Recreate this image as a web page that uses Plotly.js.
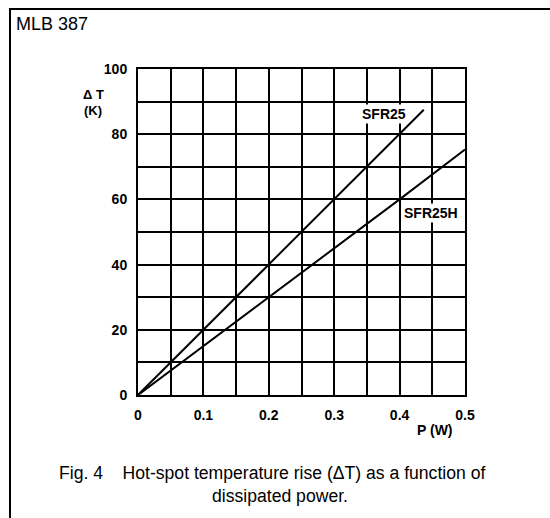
<!DOCTYPE html>
<html>
<head>
<meta charset="utf-8">
<script src="https://cdn.plot.ly/plotly-3.0.1.min.js"></script>
<style>body{margin:0;padding:0;background:#fff;}#chart{width:550px;height:518px;}</style>
</head>
<body>
<div id="chart"></div>
<script>
// Data
const powerSFR25 = [0, 0.05, 0.1, 0.2, 0.3, 0.4, 0.437];
const riseSFR25 = [0, 10, 20, 40, 60, 80, 87.5];
const powerSFR25H = [0, 0.1, 0.2, 0.3, 0.4, 0.5];
const riseSFR25H = [0, 15, 30, 45, 60, 75.3];
const xTickVals = [0, 0.05, 0.1, 0.15, 0.2, 0.25, 0.3, 0.35, 0.4, 0.45, 0.5];
const xTickText = ['0', '', '0.1', '', '0.2', '', '0.3', '', '0.4', '', '0.5'];
const yTickVals = [0, 10, 20, 30, 40, 50, 60, 70, 80, 90, 100];
const yTickText = ['0', '', '20', '', '40', '', '60', '', '80', '', '100'];
const seriesNames = ['SFR25', 'SFR25H'];

// plot area geometry in pixels
const L = 138, R = 465, T = 69, B = 395, W = 550, H = 518;
const px = x => (x - L) / (R - L);
const py = y => (B - y) / (B - T);

const font = 'Liberation Sans, Arial, Helvetica, sans-serif';
const bold = {family: font, size: 14, color: '#000', weight: 'bold'};
const boldSmall = {family: font, size: 13, color: '#000', weight: 'bold'};

const traces = [
  {x: powerSFR25, y: riseSFR25, name: seriesNames[0], mode: 'lines', line: {color: '#000', width: 2}},
  {x: powerSFR25H, y: riseSFR25H, name: seriesNames[1], mode: 'lines', line: {color: '#000', width: 2}}
];

const axisCommon = {
  showgrid: true, gridcolor: '#000', gridwidth: 2,
  showline: true, linecolor: '#000', linewidth: 2, mirror: true,
  zeroline: false, ticks: '', ticklabelstandoff: 6,
  tickfont: {family: font, size: 14, color: '#000', weight: 'bold'}
};

const layout = {
  width: W, height: H,
  margin: {l: L, r: W - R, t: T, b: H - B, pad: 0},
  paper_bgcolor: '#fff', plot_bgcolor: '#fff',
  showlegend: false,
  font: {family: font, color: '#000'},
  xaxis: Object.assign({range: [0, 0.5], tickvals: xTickVals, ticktext: xTickText}, axisCommon),
  yaxis: Object.assign({range: [0, 100], tickvals: yTickVals, ticktext: yTickText}, axisCommon),
  shapes: [
    {type: 'line', xref: 'paper', yref: 'paper', x0: px(9), x1: px(550), y0: py(9), y1: py(9), line: {color: '#000', width: 2}},
    {type: 'line', xref: 'paper', yref: 'paper', x0: px(10), x1: px(10), y0: py(9), y1: py(518), line: {color: '#000', width: 2}}
  ],
  annotations: [
    {xref: 'paper', yref: 'paper', x: px(14), y: py(24), xanchor: 'left', yanchor: 'middle', showarrow: false,
     text: 'MLB 387', font: {family: font, size: 18, color: '#000'}},
    {xref: 'paper', yref: 'paper', x: px(93), y: py(94.5), xanchor: 'center', yanchor: 'middle', showarrow: false,
     text: 'Δ T', font: boldSmall},
    {xref: 'paper', yref: 'paper', x: px(93), y: py(110), xanchor: 'center', yanchor: 'middle', showarrow: false,
     text: '(K)', font: boldSmall},
    {xref: 'paper', yref: 'paper', x: px(435), y: py(430), xanchor: 'center', yanchor: 'middle', showarrow: false,
     text: 'P (W)', font: bold},
    {xref: 'paper', yref: 'paper', x: px(384), y: py(114), xanchor: 'center', yanchor: 'middle', showarrow: false,
     text: seriesNames[0], font: bold, bgcolor: '#fff'},
    {xref: 'paper', yref: 'paper', x: px(431), y: py(213), xanchor: 'center', yanchor: 'middle', showarrow: false,
     text: seriesNames[1], font: bold, bgcolor: '#fff'},
    {xref: 'paper', yref: 'paper', x: px(272), y: py(473), xanchor: 'center', yanchor: 'middle', showarrow: false,
     text: 'Fig. 4&nbsp;&nbsp;&nbsp;&nbsp;Hot-spot temperature rise (ΔT) as a function of', font: {family: font, size: 17.6, color: '#000'}},
    {xref: 'paper', yref: 'paper', x: px(280), y: py(496), xanchor: 'center', yanchor: 'middle', showarrow: false,
     text: 'dissipated power.', font: {family: font, size: 17.6, color: '#000'}}
  ]
};

Plotly.newPlot('chart', traces, layout, {staticPlot: true, displayModeBar: false});
</script>
</body>
</html>
